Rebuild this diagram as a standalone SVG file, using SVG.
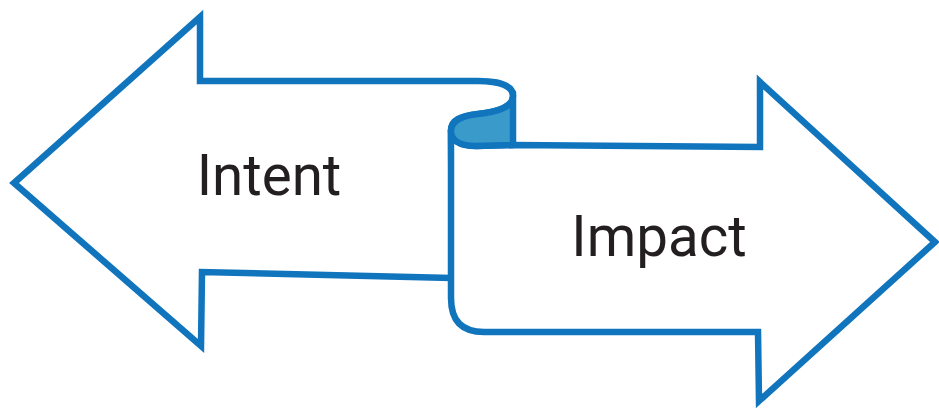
<svg xmlns="http://www.w3.org/2000/svg" width="939" height="408" viewBox="0 0 939 408">
  <style>
    .arrow { fill: #ffffff; stroke: #1175be; stroke-width: 6.5; stroke-linejoin: miter; }
    .fold { fill: #3a9bcb; stroke: #1175be; stroke-width: 6.5; stroke-linejoin: round; }
    .label { font-family: Roboto, "Liberation Sans", sans-serif; font-size: 56.5px; fill: #231f20; }
  </style>
  <rect width="939" height="408" fill="#ffffff"/>
  <g id="intent">
    <path class="arrow" d="M 452 278 L 202 272 L 201 346 L 14 183 L 200 17 L 200 81 L 478 81 C 500 81 513 86 513 96 C 513 108 495 112 478 114 C 460 116 451 120 451 130 Z"/>
    <text class="label" x="269" y="195" text-anchor="middle">Intent</text>
  </g>
  <g id="impact">
    <path class="arrow" d="M 451 130 L 451 298 C 451 321 462 332 484 332 L 758 332 L 759 401 L 935 242 L 760 82 L 760 147 L 513 145 L 476 146 C 459 146 451 140 451 130 Z"/>
    <path class="fold" d="M 513 93 L 513 145 L 476 146 C 459 146 451 140 451 131 C 451 121 460 116 478 114 C 495 112 513 108 513 96 Z"/>
    <text class="label" x="659" y="256" text-anchor="middle">Impact</text>
  </g>
</svg>
